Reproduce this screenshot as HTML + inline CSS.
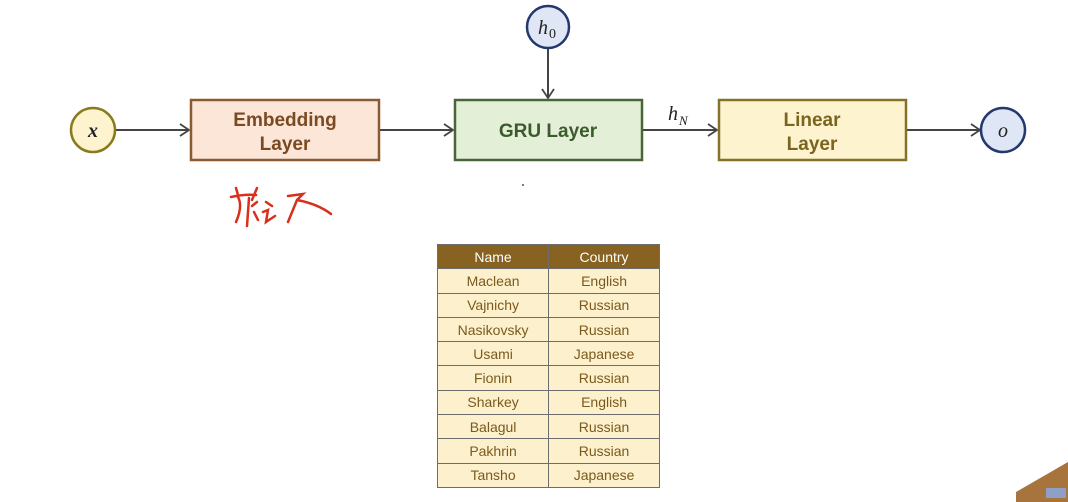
<!DOCTYPE html>
<html><head><meta charset="utf-8"><style>
body{margin:0;background:#fff;width:1068px;height:502px;overflow:hidden;position:relative;font-family:"Liberation Sans","DejaVu Sans",sans-serif}
table{position:absolute;left:437px;top:244px;border-collapse:collapse;width:223px;font-size:14px;color:#7a5a1c}
td,th{border:1px solid #6d6d6d;height:23.3px;padding:0;text-align:center;width:111px}
th{background:#876220;color:#fff;font-weight:normal}
td{background:#fdf0cd}
</style></head><body>
<svg width="1068" height="502" style="position:absolute;left:0;top:0">
<defs><marker id="a" markerWidth="12" markerHeight="14" refX="10" refY="7" orient="auto" markerUnits="userSpaceOnUse"><path d="M1,1 L10,7 L1,13" fill="none" stroke="#444" stroke-width="1.8"/></marker></defs>
<g stroke="#444" stroke-width="2" fill="none">
<line x1="115" y1="130" x2="189" y2="130" marker-end="url(#a)"/>
<line x1="380" y1="130" x2="453" y2="130" marker-end="url(#a)"/>
<line x1="643" y1="130" x2="717" y2="130" marker-end="url(#a)"/>
<line x1="907" y1="130" x2="980" y2="130" marker-end="url(#a)"/>
<line x1="548" y1="49" x2="548" y2="98" marker-end="url(#a)"/>
</g>
<circle cx="93" cy="130" r="22" fill="#fdf3cf" stroke="#8a7a1e" stroke-width="2.5"/>
<circle cx="548" cy="27" r="21" fill="#dfe7f6" stroke="#24386e" stroke-width="2.5"/>
<circle cx="1003" cy="130" r="22" fill="#dfe7f6" stroke="#24386e" stroke-width="2.5"/>
<rect x="191" y="100" width="188" height="60" fill="#fce6d8" stroke="#8a5a32" stroke-width="2.5"/>
<rect x="455" y="100" width="187" height="60" fill="#e3f0d7" stroke="#4a6638" stroke-width="2.5"/>
<rect x="719" y="100" width="187" height="60" fill="#fdf3cf" stroke="#85722a" stroke-width="2.5"/>
<g font-weight="bold" font-size="19" text-anchor="middle">
<text x="285" y="126" fill="#7a4a22">Embedding</text><text x="285" y="150" fill="#7a4a22">Layer</text>
<text x="548" y="137" fill="#3c5a2e">GRU Layer</text>
<text x="812" y="126" fill="#7a6420">Linear</text><text x="812" y="150" fill="#7a6420">Layer</text>
</g>
<g font-family="Liberation Serif,serif" font-style="italic" font-size="20" fill="#222">
<text x="93" y="137" text-anchor="middle" font-weight="bold">x</text>
<text x="538" y="34">h</text><text x="549" y="38" font-size="14" font-style="normal">0</text>
<text x="668" y="120">h</text><text x="679" y="125" font-size="13">N</text>
<text x="1003" y="137" text-anchor="middle">o</text>
</g>
<g stroke="#d8301c" stroke-width="2.5" fill="none" stroke-linecap="round">
<path d="M236 188 L238 195 M231 197 Q245 194 256 195 M238 197 Q243 206 236 222 M249 198 L247 226 M252 206 L257 202 M254 212 L258 220 M257 188 L252 200"/>
<path d="M266 202 L272 206 M263 212 L268 210 L266 222 L275 216 M288 196 L303 194 L297 200 L288 222 M297 200 Q318 204 331 214"/>
</g>
<circle cx="523" cy="185" r="1" fill="#555"/>
<path d="M1016 502 L1016 492 L1068 462 L1068 502Z" fill="#a8743e"/>
<rect x="1046" y="488" width="20" height="10" fill="#8fa0c8"/>
</svg>
<table>
<tr><th>Name</th><th>Country</th></tr>
<tr><td>Maclean</td><td>English</td></tr>
<tr><td>Vajnichy</td><td>Russian</td></tr>
<tr><td>Nasikovsky</td><td>Russian</td></tr>
<tr><td>Usami</td><td>Japanese</td></tr>
<tr><td>Fionin</td><td>Russian</td></tr>
<tr><td>Sharkey</td><td>English</td></tr>
<tr><td>Balagul</td><td>Russian</td></tr>
<tr><td>Pakhrin</td><td>Russian</td></tr>
<tr><td>Tansho</td><td>Japanese</td></tr>
</table>
</body></html>
